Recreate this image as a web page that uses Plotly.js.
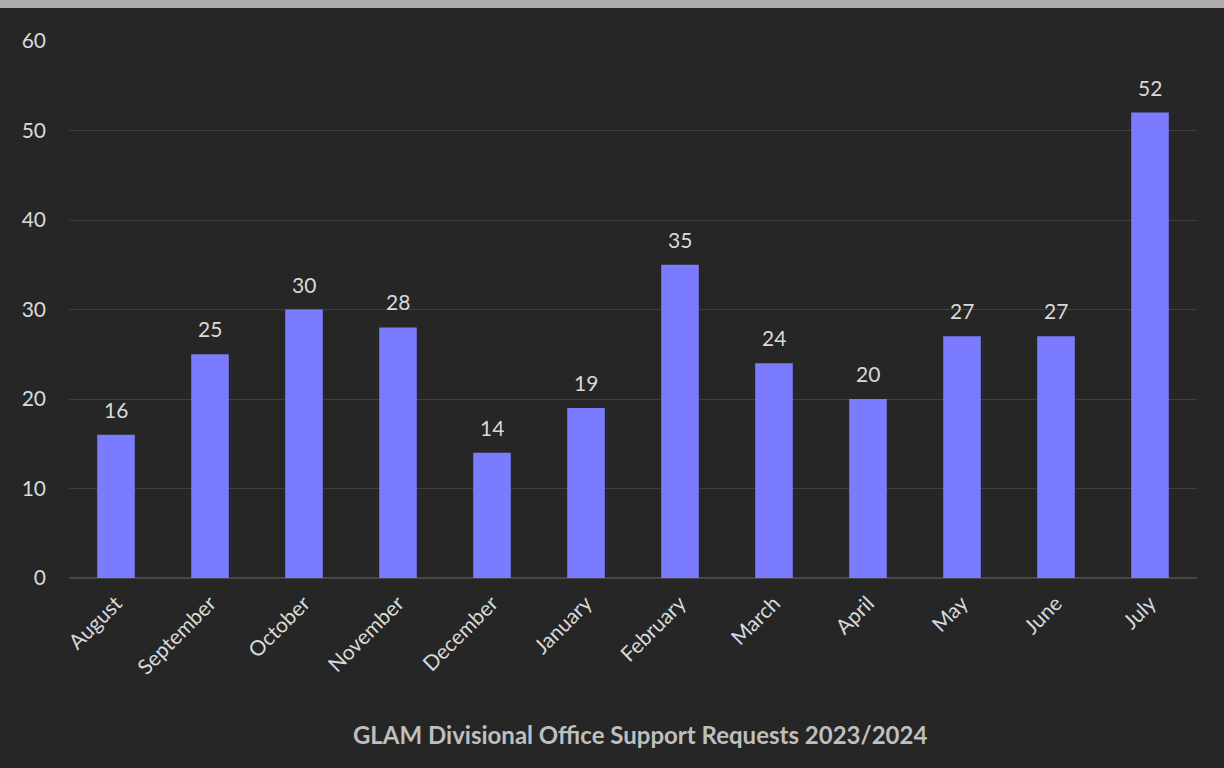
<!DOCTYPE html>
<html>
<head>
<meta charset="utf-8">
<script src="https://cdn.plot.ly/plotly-3.0.1.min.js"></script>
<style>
html,body{margin:0;padding:0;background:#262626;width:1224px;height:768px;overflow:hidden;}
#band{height:8px;background:#b0acab;width:1224px;}
#chart{width:1224px;height:760px;}
</style>
</head>
<body>
<div id="band"></div>
<div id="chart"></div>
<script>
const months = ["August","September","October","November","December","January","February","March","April","May","June","July"];
const requests = [16,25,30,28,14,19,35,24,20,27,27,52];
const yTicks = [0,10,20,30,40,50,60];
const chartTitle = "GLAM Divisional Office Support Requests 2023/2024";

const font = "Lato, 'Open Sans', sans-serif";

const labels = months.map((m, i) => ({
  x: m, y: requests[i], text: String(requests[i]),
  xref: "x", yref: "y", showarrow: false,
  yanchor: "bottom", yshift: 11,
  font: {family: font, size: 21, color: "#d9d9d9"}
}));

Plotly.newPlot("chart", [{
  type: "bar",
  x: months,
  y: requests,
  marker: {color: "#7b7bff"},
  hoverinfo: "none"
}], {
  width: 1224,
  height: 760,
  paper_bgcolor: "#262626",
  plot_bgcolor: "#262626",
  margin: {l: 69, r: 27, t: 33, b: 190},
  bargap: 0.6,
  showlegend: false,
  font: {family: font, color: "#d9d9d9"},
  annotations: labels,
  title: {
    text: "<b>" + chartTitle + "</b>",
    font: {family: font, size: 24, color: "#bfbfbf"},
    x: 0.523, xanchor: "center",
    yref: "container", y: 0.043, yanchor: "middle"
  },
  xaxis: {
    type: "category",
    tickangle: -45,
    tickfont: {family: font, size: 21, color: "#d9d9d9"},
    showgrid: false,
    showline: false,
    ticks: "",
    ticklabelstandoff: 8,
    fixedrange: true
  },
  yaxis: {
    range: [0, 60],
    tickvals: yTicks,
    tickfont: {family: font, size: 21, color: "#d9d9d9"},
    gridcolor: "#404040",
    gridwidth: 1,
    zeroline: true,
    zerolinecolor: "#474747",
    zerolinewidth: 2,
    showline: false,
    ticks: "",
    ticklabelstandoff: 22,
    fixedrange: true
  }
}, {displayModeBar: false, staticPlot: true});
</script>
</body>
</html>
